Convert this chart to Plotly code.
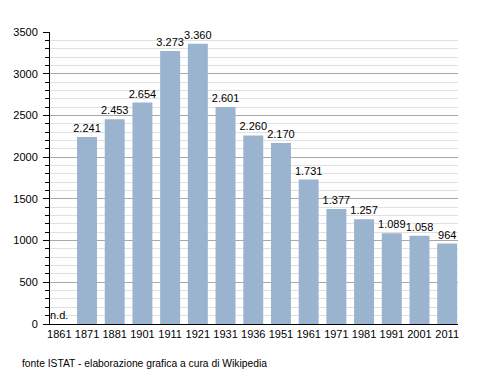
import plotly.graph_objects as go

years = ["1861", "1871", "1881", "1901", "1911", "1921", "1931", "1936",
         "1951", "1961", "1971", "1981", "1991", "2001", "2011"]
population = [None, 2241, 2453, 2654, 3273, 3360, 2601, 2260,
              2170, 1731, 1377, 1257, 1089, 1058, 964]
y_ticks = [0, 500, 1000, 1500, 2000, 2500, 3000, 3500]

def fmt(v):
    if v is None:
        return ""
    return f"{v:,}".replace(",", ".")

labels = [fmt(v) for v in population]
idx = list(range(len(years)))

fig = go.Figure()
fig.add_trace(go.Bar(
    x=idx, y=population, text=labels, textposition="outside",
    textfont=dict(size=11, color="black"), constraintext="none",
    marker=dict(color="#9ab3cf", line=dict(width=0)),
    cliponaxis=False,
))

fig.add_annotation(x=idx[0], y=0, text="n.d.", showarrow=False,
                   yanchor="bottom", xanchor="center", yshift=1,
                   font=dict(size=11, color="black"))
fig.add_annotation(x=-30 / 408, y=-39 / 292, xref="paper", yref="paper",
                   text="fonte ISTAT - elaborazione grafica a cura di Wikipedia",
                   showarrow=False, xanchor="left", yanchor="middle",
                   font=dict(size=10.3, color="black"))

fig.update_layout(
    width=480, height=365,
    margin=dict(l=42, r=30, t=24, b=49, autoexpand=False),
    paper_bgcolor="white", plot_bgcolor="white",
    font=dict(family="Liberation Sans, Arial, sans-serif", size=11, color="black"),
    bargap=0.28,
    showlegend=False,
    xaxis=dict(range=[-0.336, 14.39], tickvals=idx, ticktext=years,
               showline=True, linecolor="black", linewidth=1,
               ticks="", tickfont=dict(size=11), showgrid=False, zeroline=False),
    yaxis=dict(range=[0, 3500], tickvals=y_ticks, showline=True, linecolor="black",
               linewidth=1, ticks="outside", ticklen=6, tickcolor="black",
               ticklabelstandoff=3,
               gridcolor="#a8a8a8", gridwidth=1, zeroline=False,
               tickfont=dict(size=11),
               minor=dict(dtick=100, showgrid=True, gridcolor="#e0e0e0",
                          ticks="outside", ticklen=4, tickcolor="black")),
)

fig.write_html("out.html")
